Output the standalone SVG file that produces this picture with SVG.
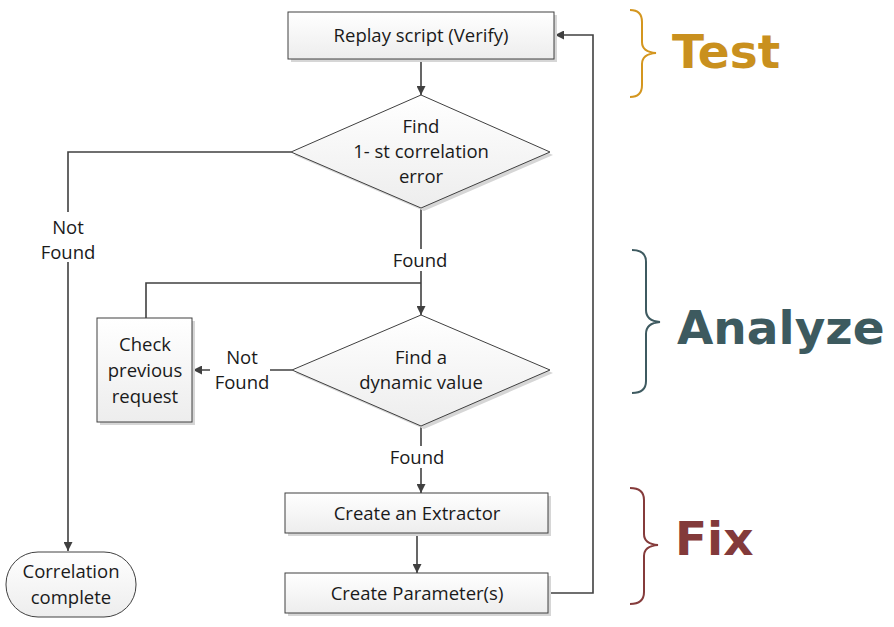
<svg xmlns="http://www.w3.org/2000/svg" width="894" height="627" viewBox="0 0 894 627">
<defs>
<linearGradient id="g" x1="0" y1="0" x2="0" y2="1"><stop offset="0" stop-color="#FFFFFF"/><stop offset="1" stop-color="#EDEDED"/></linearGradient>
<marker id="ar" viewBox="0 0 10 10" refX="10" refY="5" markerWidth="9" markerHeight="9" markerUnits="userSpaceOnUse" orient="auto"><path d="M0,0 L10,5 L0,10 z" fill="#404040"/></marker>
</defs>
<style>
.n{fill:url(#g);stroke:#404040;stroke-width:1}
.sh{fill:#D6D6D6}
.t{font-family:"Open Sans","Liberation Sans",Arial,sans-serif;font-size:18.5px;fill:#1a1a1a;text-anchor:middle}
.c{fill:none;stroke:#404040;stroke-width:1.6}
.b{fill:none;stroke-width:2}
.h{font-family:"DejaVu Sans",Verdana,sans-serif;font-weight:bold;font-size:47px}
</style>
<rect width="894" height="627" fill="#FFFFFF"/>
<g id="connectors">
<path class="c" d="M421,59 L421,95" marker-end="url(#ar)"/>
<path class="c" d="M421,208 L421,315" marker-end="url(#ar)"/>
<path class="c" d="M146,318 L146,283 L421,283"/>
<path class="c" d="M291,152 L68,152 L68,551" marker-end="url(#ar)"/>
<path class="c" d="M292,370 L193,370" marker-end="url(#ar)"/>
<path class="c" d="M421,426 L421,493" marker-end="url(#ar)"/>
<path class="c" d="M417,533 L417,573" marker-end="url(#ar)"/>
<path class="c" d="M548,593 L593,593 L593,35 L555,35" marker-end="url(#ar)"/>
<rect x="34" y="212" width="68" height="50" fill="#FFFFFF"/>
<text class="t" x="68" y="234">Not</text>
<text class="t" x="68" y="259">Found</text>
<rect x="386" y="249" width="70" height="22" fill="#FFFFFF"/>
<text class="t" x="420" y="267">Found</text>
<rect x="210" y="344" width="60" height="50" fill="#FFFFFF"/>
<text class="t" x="242" y="364">Not</text>
<text class="t" x="242" y="389">Found</text>
<rect x="382" y="446" width="70" height="22" fill="#FFFFFF"/>
<text class="t" x="417" y="464">Found</text>
</g>
<g id="replay">
<rect class="sh" x="291" y="15" width="266" height="47"/>
<rect class="n" x="288" y="12" width="266" height="47"/>
<text class="t" x="421" y="42">Replay script (Verify)</text>
</g>
<g id="find-error">
<polygon class="sh" points="424,98 553,155 424,211 294,155"/>
<polygon class="n" points="421,95 550,152 421,208 291,152"/>
<text class="t" x="421" y="133">Find</text>
<text class="t" x="421" y="158">1- st correlation</text>
<text class="t" x="421" y="183">error</text>
</g>
<g id="find-dynamic">
<polygon class="sh" points="424,318 553,373 424,429 295,373"/>
<polygon class="n" points="421,315 550,370 421,426 292,370"/>
<text class="t" x="421" y="364">Find a</text>
<text class="t" x="421" y="389">dynamic value</text>
</g>
<g id="check">
<rect class="sh" x="100" y="321" width="95" height="104"/>
<rect class="n" x="97" y="318" width="95" height="104"/>
<text class="t" x="145" y="351">Check</text>
<text class="t" x="145" y="377">previous</text>
<text class="t" x="145" y="403">request</text>
</g>
<g id="extractor">
<rect class="sh" x="288" y="496" width="263" height="40"/>
<rect class="n" x="285" y="493" width="263" height="40"/>
<text class="t" x="417" y="520">Create an Extractor</text>
</g>
<g id="parameter">
<rect class="sh" x="288" y="576" width="263" height="40"/>
<rect class="n" x="285" y="573" width="263" height="40"/>
<text class="t" x="417" y="600">Create Parameter(s)</text>
</g>
<g id="complete">
<rect class="n" x="6" y="552" width="130" height="65" rx="32" ry="32"/>
<text class="t" x="71" y="578">Correlation</text>
<text class="t" x="71" y="604">complete</text>
</g>
<g id="test">
<path class="b" stroke="#D4961F" d="M630,10 Q642,10 642,22 L642,42 Q642,52 656,53 Q642,54 642,64 L642,85 Q642,97 630,97"/>
<text class="h" x="672" y="68" fill="#C9901E">Test</text>
</g>
<g id="analyze">
<path class="b" stroke="#3E5A60" d="M632,250 Q646,250 646,262 L646,310 Q646,321 660,322 Q646,323 646,334 L646,381 Q646,393 632,393"/>
<text class="h" x="677" y="344" fill="#3D5A5F">Analyze</text>
</g>
<g id="fix">
<path class="b" stroke="#853B3B" d="M630,488 Q644,488 644,500 L644,534 Q644,544 658,545 Q644,546 644,556 L644,592 Q644,604 630,604"/>
<text class="h" x="675" y="555" fill="#833A3A">Fix</text>
</g>
</svg>
